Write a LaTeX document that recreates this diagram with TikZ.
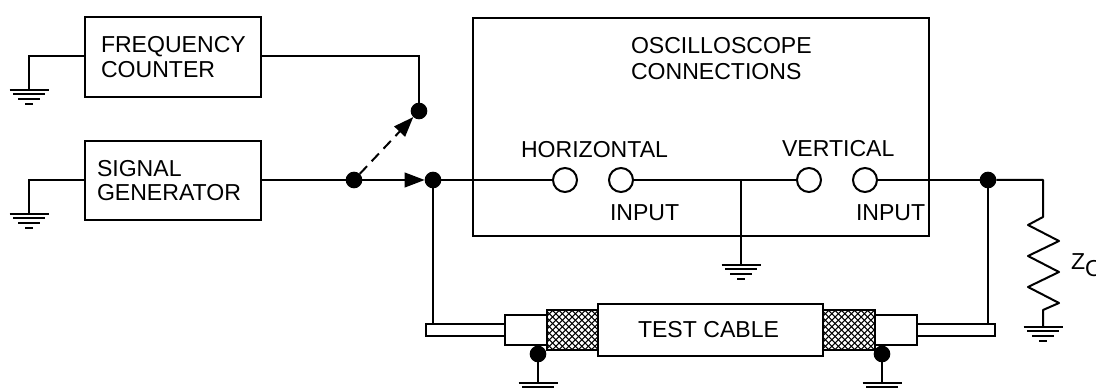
\documentclass[tikz,border=0pt]{standalone}
\usepackage{fontspec}
\setmainfont{Liberation Sans}
\usetikzlibrary{arrows.meta}
\tikzset{
  x=0.75pt,y=-0.75pt,
  wire/.style={line width=1.5pt,line cap=butt,line join=miter},
  box/.style={draw,fill=white,line width=1.5pt,inner sep=0pt,outer sep=0pt},
  dot/.style={circle,fill=black,minimum size=12.5pt,inner sep=0pt,outer sep=0pt},
  jack/.style={circle,draw,fill=white,line width=1.5pt,minimum size=18pt,inner sep=0pt,outer sep=0pt},
  lbl/.style={anchor=base west,inner sep=0pt,outer sep=0pt,font=\fontsize{17.3}{21}\selectfont},
  tip/.style={-{Triangle[length=15pt,width=11pt]}},
  ground/.pic={
    \draw[line width=1.5pt] (-19.5,0) -- (19.5,0);
    \draw[line width=1.5pt] (-16,4.5) -- (16,4.5);
    \draw[line width=1.5pt] (-11,9) -- (11,9);
    \draw[line width=1.5pt] (-4,14) -- (4,14);
  }
}
\begin{document}
\begin{tikzpicture}
\path[use as bounding box,clip] (0,0) rectangle (1096,391);
% boxes
\node[box,minimum width=132pt,minimum height=60pt] (fc) at (173,57) {};
\node[box,minimum width=132pt,minimum height=59.25pt] (sg) at (173,180.5) {};
\node[box,minimum width=342pt,minimum height=163.5pt] (osc) at (701,127) {};
% labels
\node[lbl] (t1) at (101,53) {FREQUENCY};
\node[lbl] (t2) at (101,78) {COUNTER};
\node[lbl] (t3) at (97,177) {SIGNAL};
\node[lbl] (t4) at (97,201) {GENERATOR};
\node[lbl] (t5) at (631,54) {OSCILLOSCOPE};
\node[lbl] (t6) at (631,80) {CONNECTIONS};
\node[lbl] (t7) at (521,158) {HORIZONTAL};
\node[lbl] (t8) at (610,221) {INPUT};
\node[lbl] (t9) at (782,157) {VERTICAL};
\node[lbl] (t10) at (856,221) {INPUT};
\node[lbl] (t11) at (1071,270) {Z};
\node[lbl] (t12) at (1085,277) {O};
% junctions and jacks
\node[dot] (sw) at (354,180) {};
\node[dot] (up) at (419,111) {};
\node[dot] (tap) at (433,180) {};
\node[dot] (rtap) at (988,180) {};
\node[jack] (h1) at (565,180) {};
\node[jack] (h2) at (621,180) {};
\node[jack] (v1) at (809,180) {};
\node[jack] (v2) at (865,180) {};
% cable
\node[box,minimum width=59.25pt,minimum height=9pt] (stubl) at (465.5,330) {};
\node[box,minimum width=31.5pt,minimum height=22.5pt] (connl) at (526,330) {};
\node[box,minimum width=38.25pt,minimum height=30pt] (braidl) at (572.5,330) {};
\node[box,minimum width=168.75pt,minimum height=39pt] (jacket) at (710.5,330) {};
\node[lbl] (t13) at (638,338) {TEST CABLE};
\node[box,minimum width=39pt,minimum height=30pt] (braidr) at (849,330) {};
\node[box,minimum width=31.5pt,minimum height=22.5pt] (connr) at (896,330) {};
\node[box,minimum width=58.5pt,minimum height=9pt] (stubr) at (956,330) {};
\foreach \b in {braidl,braidr}{
  \begin{scope}
    \clip (\b.south west) rectangle (\b.north east);
    \foreach \k in {-60,-53.5,...,120}{
      \draw[line width=0.8pt] ([xshift=\k*0.75pt]\b.south west) -- ++(60,-60);
      \draw[line width=0.8pt] ([xshift=\k*0.75pt]\b.north west) -- ++(60,60);
    }
  \end{scope}
  \draw[line width=1.5pt] (\b.south west) rectangle (\b.north east);
}
\node[dot] (gl) at (538,354) {};
\node[dot] (gr) at (882,354) {};
% ground points
\coordinate (g1) at (29,90);
\coordinate (g2) at (29,214);
\coordinate (j) at (741,180);
\coordinate (g3) at (741,265);
\coordinate (g4) at (538,383);
\coordinate (g5) at (882,383);
\coordinate (g6) at (1043,327);
\coordinate (rt) at (1043,217);
\foreach \g in {g1,g2,g3,g4,g5,g6}{ \pic at (\g) {ground}; }
% connectors
\draw[wire] (fc.west |- 0,56) -| (g1);
\draw[wire] (sg.west |- 0,180) -| (g2);
\draw[wire] (fc.east |- 0,56) -| (up);
\draw[wire] (sg.east |- sw) -- (sw);
\draw[wire,tip] (sw) -- (tap);
\draw[wire,tip,dash pattern=on 8pt off 5pt] (sw) -- (up);
\draw[wire] (tap) -- (h1);
\draw[wire] (h2) -- (v1);
\draw[wire] (v2) -- (rtap);
\draw[wire] (j) -- (g3);
\draw[wire] (tap) -- (tap |- stubl.north);
\draw[wire] (rtap) -- (rtap |- stubr.north);
\draw[wire] (gl) -- (g4);
\draw[wire] (gr) -- (g5);
\draw[wire,line join=round] (rtap) -| (rt) -- (1028,225) -- (1059,241) -- (1028,256) -- (1059,272) -- (1028,287) -- (1059,303) -- (1043,310) -- (g6);
\end{tikzpicture}
\end{document}
